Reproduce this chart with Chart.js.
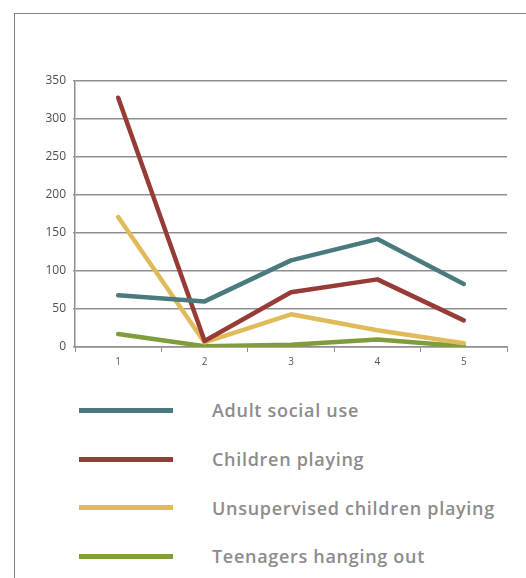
<!DOCTYPE html>
<html>
<head>
<meta charset="utf-8">
<script src="https://cdn.jsdelivr.net/npm/chart.js@4"></script>
<style>
    html, body { margin: 0; padding: 0; background: #fff; }
    body { width: 526px; height: 578px; position: relative; overflow: hidden; font-family: "Open Sans", sans-serif; }
    #frame { position: absolute; left: 14px; top: 13px; width: 600px; height: 700px; border-left: 1px solid #7d8288; border-top: 1px solid #7d8288; }
    #wrap { position: absolute; left: 0; top: 0; width: 526px; height: 370px; }
    #legend { position: absolute; left: 79px; top: 386px; }
    .item { height: 48.7px; display: flex; align-items: center; }
    .swatch { width: 94px; height: 5px; margin-right: 39px; }
    .label { font-size: 18px; color: #8c8c8c; font-weight: 600; letter-spacing: 0.7px; }
</style>
</head>
<body>
<div id="frame"></div>
<div id="wrap"><canvas id="chart"></canvas></div>
<div id="legend"></div>
<script>
// datos
const categorias = ['1', '2', '3', '4', '5'];
const series = ['Adult social use', 'Children playing', 'Unsupervised children playing', 'Teenagers hanging out'];
const adultos = [68, 60, 114, 142, 83];
const ninos = [328, 8, 72, 89, 35];
const ninosSolos = [171, 6, 43, 22, 5];
const adolescentes = [17, 1, 3, 10, 1];
const colores = ['#4a7a7e', '#963b36', '#dfbb5a', '#7f9d3a'];

const valores = [adultos, ninos, ninosSolos, adolescentes];

const ctx = document.getElementById('chart').getContext('2d');
new Chart(ctx, {
    type: 'line',
    data: {
        labels: categorias,
        datasets: series.map((s, i) => ({
            label: s,
            data: valores[i],
            borderColor: colores[i],
            backgroundColor: colores[i],
            borderWidth: 4.5,
            pointRadius: 0,
            borderCapStyle: 'round',
            borderJoinStyle: 'round',
            tension: 0
        }))
    },
    options: {
        responsive: true,
        maintainAspectRatio: false,
        animation: false,
        layout: { padding: { top: 81, right: 19, left: 0, bottom: 0 } },
        plugins: {
            legend: { display: false },
            tooltip: { enabled: false }
        },
        scales: {
            x: {
                offset: true,
                grid: { display: true, drawOnChartArea: false, drawTicks: true, tickLength: 5, color: '#8f8f8f', offset: true },
                border: { color: '#8f8f8f', width: 1.5 },
                ticks: { color: '#555', font: { family: 'Open Sans', size: 10 }, padding: 4 },
                afterFit: s => { s.height = 23; }
            },
            y: {
                min: 0,
                max: 350,
                ticks: { stepSize: 50, color: '#4f4f4f', font: { family: 'Open Sans', size: 12 }, padding: 7 },
                grid: { color: '#8f8f8f', lineWidth: 1.5, drawTicks: true, tickLength: 2 },
                border: { color: '#8f8f8f', width: 1.5 },
                afterFit: s => { s.width = 75; }
            }
        }
    }
});

// leyenda en html, una fila por serie
const legend = document.getElementById('legend');
series.forEach((s, i) => {
    const row = document.createElement('div');
    row.className = 'item';
    row.innerHTML = `<div class="swatch" style="background:${colores[i]}"></div><div class="label">${s}</div>`;
    legend.appendChild(row);
});
</script>
</body>
</html>
